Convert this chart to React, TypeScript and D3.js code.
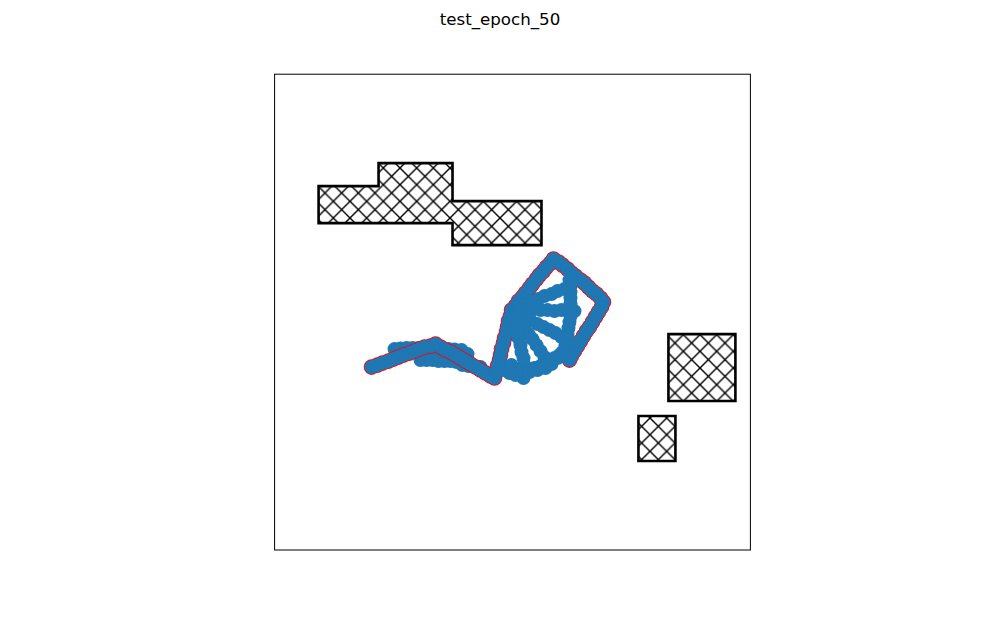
import React from 'react'
import * as d3 from 'd3'

const width = 1000
const height = 618
// square axes (aspect equal), like the matplotlib figure
const box = { left: 274.6, top: 74.2, size: 475.8 }

const title = 'test_epoch_50'

// world extent of the axes
const xDomain = [0, 476]
const yDomain = [0, 476]

// obstacles (polygon vertices)
const obstacleA = [[44, 364], [104, 364], [104, 387], [178, 387], [178, 349], [267, 349], [267, 305], [178, 305], [178, 327], [44, 327]]
const obstacleB = [[394, 216], [461, 216], [461, 149], [394, 149]]
const obstacleC = [[364, 134], [401, 134], [401, 89], [364, 89]]
const obstacles = [obstacleA, obstacleB, obstacleC]

// other states, drawn under the main path
const upperRow = [[120, 201], [126, 201.5], [132, 202], [138, 202], [144, 202], [150, 202], [156, 202], [162, 201], [168, 201], [174, 201], [180, 200.5], [187, 200], [193, 196]]
const lowerRow = [[146, 190], [152, 190], [158, 190], [164, 189], [170, 189], [176, 189], [182, 188], [188, 185], [194, 184], [200, 184], [206, 183]]

// main path (red edged)
const mainPath = [
    [97, 183], [103, 185], [108, 187], [114, 189], [119, 191], [124, 193], [129, 195], [135, 197], [140, 199], [145, 201], [150, 203], [156, 204], [161, 206],
    [166, 203], [171, 200], [176, 198], [181, 195], [186, 192], [191, 189], [196, 186], [201, 183], [206, 180], [211, 177], [216, 174], [220, 172],
    [222, 178], [223, 184], [225, 190], [226, 195], [227, 201], [229, 207], [230, 212], [232, 218], [233, 223], [234, 229], [236, 234], [237, 240],
    [241, 244], [244, 249], [248, 253], [251, 257], [255, 262], [258, 266], [262, 271], [265, 275], [269, 279], [272, 283], [276, 287], [279, 291],
    [284, 288], [288, 285], [293, 281], [297, 277], [301, 274], [306, 270], [310, 267], [314, 263], [318, 259], [322, 256], [326, 252], [329, 248],
    [327, 243], [324, 238], [321, 233], [318, 228], [315, 223], [312, 219], [309, 214], [306, 209], [303, 204], [300, 199], [297, 194], [295, 190],
]

// fan of other states, drawn over the main path
const spokeA = [[244, 243], [251, 246], [257, 248], [264, 251], [270, 254], [277, 256], [283, 259], [290, 261], [296, 264]]
const spokeB = [[245, 240], [252, 240], [259, 241], [266, 240], [273, 240], [280, 239], [287, 240], [294, 240], [300, 239]]
const spokeC = [[244, 236], [250, 233], [256, 230], [263, 226], [269, 223], [275, 220], [281, 217], [287, 213], [294, 210]]
const spokeD = [[242, 233], [246, 228], [250, 222], [254, 216], [258, 211], [262, 205], [266, 199], [270, 193], [274, 188]]
const spokeE = [[239, 232], [241, 225], [242, 219], [244, 212], [246, 205], [247, 198], [249, 192], [250, 185], [250, 179], [249, 172]]
const column = [[295, 270], [296, 258], [296, 252], [296, 246], [296, 234], [295, 228], [294, 222], [293, 216], [291, 204], [288, 198]]
const bottom = [[230, 180], [235, 177], [241, 175], [237, 185], [243, 180], [255, 178], [260, 182], [263, 180], [266, 184], [271, 182], [277, 186], [280, 192], [283, 192], [285, 195]]

const underPoints = [...upperRow, ...lowerRow]
const overPoints = [...spokeA, ...spokeB, ...spokeC, ...spokeD, ...spokeE, ...column, ...bottom]

const blue = '#1f77b4'
const hatchStep = 100 / 6

export default function App() {
    const x = d3.scaleLinear().domain(xDomain).range([box.left, box.left + box.size])
    const y = d3.scaleLinear().domain(yDomain).range([box.top + box.size, box.top])
    const r = 7

    const line = d3.line().x(d => x(d[0])).y(d => y(d[1]))

    return (
        <svg width={width} height={height} style={{ position: 'absolute', left: 0, top: 0, background: 'white' }}
            fontFamily='DejaVu Sans, sans-serif'>
            <defs>
                <pattern id='hatch' patternUnits='userSpaceOnUse' width={hatchStep} height={hatchStep}
                    patternTransform={`translate(0, ${height % hatchStep})`}>
                    <path d={`M0,0L${hatchStep},${hatchStep}M0,${hatchStep}L${hatchStep},0`}
                        stroke='black' strokeWidth={1.4} />
                </pattern>
            </defs>
            <rect width={width} height={height} fill='white' />
            <text x={width / 2} y={25} textAnchor='middle' fontSize={16.67} fill='black'>{title}</text>

            {obstacles.map((o, i) => (
                <g key={i}>
                    <path d={line(o) + 'Z'} fill='white' />
                    <path d={line(o) + 'Z'} fill='url(#hatch)' stroke='black' strokeWidth={2.6} />
                </g>
            ))}

            <g className='under'>
                {underPoints.map((p, i) => <circle key={i} cx={x(p[0])} cy={y(p[1])} r={r} fill={blue} />)}
            </g>
            <g className='main'>
                {mainPath.map((p, i) => <circle key={i} cx={x(p[0])} cy={y(p[1])} r={r + 0.8} fill='red' />)}
                {mainPath.map((p, i) => <circle key={'b' + i} cx={x(p[0])} cy={y(p[1])} r={r} fill={blue} />)}
            </g>
            <g className='over'>
                {overPoints.map((p, i) => <circle key={i} cx={x(p[0])} cy={y(p[1])} r={r} fill={blue} />)}
            </g>

            <rect x={box.left} y={box.top} width={box.size} height={box.size} fill='none' stroke='black' strokeWidth={1} />
        </svg>
    )
}
